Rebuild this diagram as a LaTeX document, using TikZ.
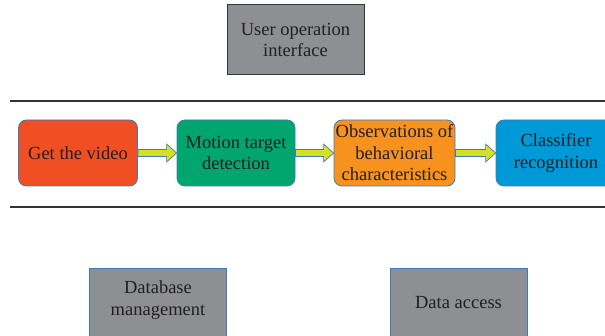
\documentclass[tikz,border=0pt]{standalone}
\usepackage{fontspec}
\setmainfont{Liberation Serif}
\usetikzlibrary{calc}
\definecolor{cred}{HTML}{F04E23}
\definecolor{cgreen}{HTML}{00A66E}
\definecolor{corange}{HTML}{F7921E}
\definecolor{cblue}{HTML}{0099D8}
\definecolor{cgray}{HTML}{8E8F93}
\definecolor{cborder}{HTML}{3A7CC0}
\definecolor{ctext}{HTML}{231F20}
\definecolor{cyellow}{HTML}{D7DF23}
\definecolor{cline}{HTML}{333333}
\tikzset{
  txt/.style={font=\fontsize{18.5}{21.5}\selectfont, text=ctext, align=center},
  procbox/.style={txt, draw=cborder, line width=0.8pt, rounded corners=8pt, minimum height=66pt, inner sep=0pt},
  graybox/.style={txt, fill=cgray, draw=cborder, line width=0.9pt, minimum width=137pt, minimum height=80pt},
  arr/.style={fill=cyellow, draw=cborder, line width=0.7pt, line join=miter},
  rule/.style={draw=cline, line width=1.5pt}
}
\newcommand\blockarrow[2]{%
  \draw[arr] ($(#1.east)+(0,-3.5)$) -- ($(#2.west)+(-10,-3.5)$) -- ($(#2.west)+(-10,-9)$) -- (#2.west)
    -- ($(#2.west)+(-10,9)$) -- ($(#2.west)+(-10,3.5)$) -- ($(#1.east)+(0,3.5)$) -- cycle;}
\begin{document}
\begin{tikzpicture}[x=1pt,y=-1pt]
\useasboundingbox (0,0) rectangle (605,336);
% top box
\node[txt, fill=cgray, draw=cline, line width=1pt, minimum width=137pt, minimum height=70pt] (ui) at (295.5,40) {User operation\\interface};
% rules
\coordinate (r1a) at (10,101);
\coordinate (r1b) at (605,101);
\coordinate (r2a) at (10,207);
\coordinate (r2b) at (605,207);
\draw[rule] (r1a) -- (r1b);
\draw[rule] (r2a) -- (r2b);
% process boxes
\node[procbox, fill=cred, minimum width=119pt] (b1) at (78,153) {Get the video};
\node[procbox, fill=cgreen, minimum width=118pt] (b2) at (236,153) {Motion target\\detection};
\node[procbox, fill=corange, minimum width=121pt, minimum height=66pt] (b3) at (394.5,153) {Observations of\\behavioral\\characteristics};
\node[procbox, fill=cblue, minimum width=120pt] (b4) at (556,153) {Classifier\\recognition};
\blockarrow{b1}{b2}
\blockarrow{b2}{b3}
\blockarrow{b3}{b4}
% bottom boxes
\node[graybox, label={[txt, name=dbt, yshift=8pt]center:{Database\\management}}] (db) at (158,308) {};
\node[graybox, label={[txt, name=dat, yshift=5pt]center:{Data access}}] (da) at (458.5,308) {};
\end{tikzpicture}
\end{document}
